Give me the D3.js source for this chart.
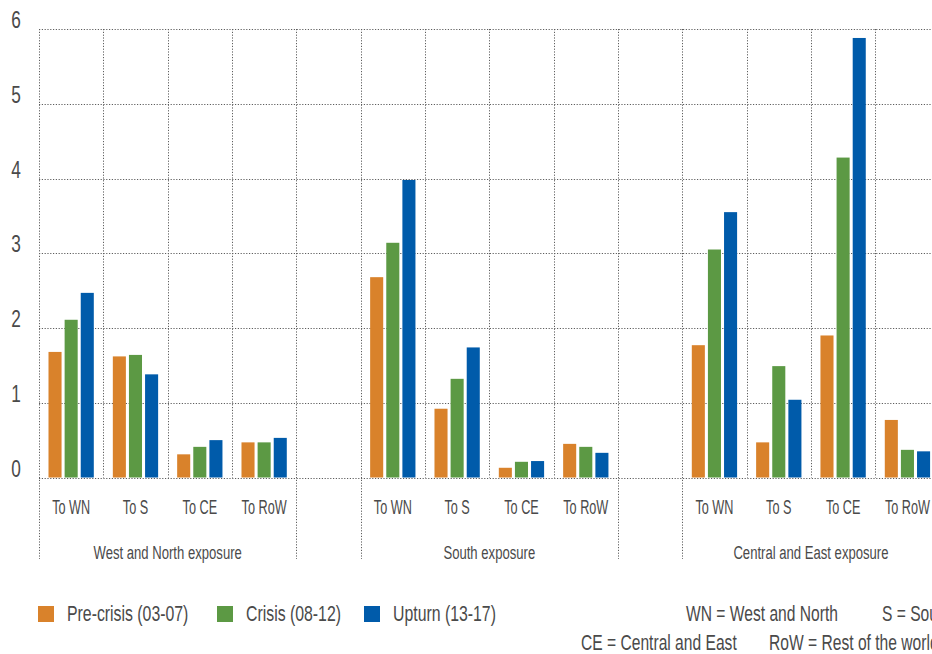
<!DOCTYPE html>
<html>
<head>
<meta charset="utf-8">
<script src="https://cdn.jsdelivr.net/npm/d3@7"></script>
<style>
  body { margin: 0; background: #fff; }
  svg { display: block; overflow: hidden; }
  text { font-family: "Liberation Sans Narrow", "Liberation Sans", sans-serif; fill: #4a4a4a; }
  .grid line { stroke: #5e5e5e; stroke-width: 1; stroke-dasharray: 1.2, 1.6; }
</style>
</head>
<body>
<div id="chart"></div>
<script>
// chart data
var groups = ["West and North exposure", "South exposure", "Central and East exposure"];
var destinations = ["To WN", "To S", "To CE", "To RoW"];
var seriesNames = ["Pre-crisis (03-07)", "Crisis (08-12)", "Upturn (13-17)"];
var seriesColors = ["#d9822b", "#5c9944", "#005baa"];

// one value per group x destination (WN: 4, S: 4, CE: 4)
var preCrisis = [1.68, 1.62, 0.31, 0.47, 2.68, 0.92, 0.13, 0.45, 1.77, 0.47, 1.90, 0.77];
var crisis    = [2.11, 1.64, 0.41, 0.47, 3.14, 1.32, 0.21, 0.41, 3.05, 1.49, 4.28, 0.37];
var upturn    = [2.47, 1.38, 0.50, 0.53, 3.98, 1.74, 0.22, 0.33, 3.55, 1.04, 5.88, 0.35];

var yTicks = [0, 1, 2, 3, 4, 5, 6];

var noteLines = [
  ["WN = West and North", "S = South"],
  ["CE = Central and East", "RoW = Rest of the world"]
];

var svgWidth = 932, svgHeight = 654;
var margin = { top: 29, left: 39 };
var baseY = 477.5;
var slotW = 64.33;

var svg = d3.select("#chart").append("svg")
  .attr("width", svgWidth)
  .attr("height", svgHeight);

// slot keys: 4 destinations per group, plus an empty gap slot between groups
var slotKeys = [];
groups.forEach(function(g, gi) {
  destinations.forEach(function(d) { slotKeys.push(gi + "|" + d); });
  if (gi < groups.length - 1) slotKeys.push("gap" + gi);
});

var x0 = d3.scaleBand()
  .domain(slotKeys)
  .range([margin.left, margin.left + slotKeys.length * slotW])
  .paddingInner(0).paddingOuter(0);

var x1 = d3.scaleBand()
  .domain(seriesNames)
  .range([9.5, 54.8])
  .paddingInner(0.19);

var y = d3.scaleLinear().domain([0, 6]).range([baseY, margin.top]);

function addText(parent, str, x, yy, size, sx, anchor) {
  return parent.append("text")
    .attr("transform", `translate(${x},${yy}) scale(${sx},1)`)
    .attr("text-anchor", anchor || "start")
    .style("font-size", size + "px")
    .text(str);
}

// horizontal grid
var grid = svg.append("g").attr("class", "grid");
grid.selectAll(".h")
  .data(yTicks)
  .enter().append("line")
  .attr("x1", margin.left)
  .attr("x2", svgWidth + 20)
  .attr("y1", d => Math.round(y(d)) + 0.5)
  .attr("y2", d => Math.round(y(d)) + 0.5);

// vertical grid: every slot edge, group edges run down past the labels
var edges = slotKeys.map(k => x0(k)).concat([x0.range()[1]]);
var groupEdgeIdx = [0, 4, 5, 9, 10, 14];
grid.selectAll(".v")
  .data(edges)
  .enter().append("line")
  .attr("x1", d => Math.round(d) + 0.5)
  .attr("x2", d => Math.round(d) + 0.5)
  .attr("y1", margin.top)
  .attr("y2", (d, i) => groupEdgeIdx.indexOf(i) >= 0 ? 559 : baseY);

// y tick labels
yTicks.forEach(function(t) {
  addText(svg, t, 16, y(t) - 1, 23, 0.75, "middle");
});

// bars
var allSeries = [preCrisis, crisis, upturn];
var barData = [];
groups.forEach(function(g, gi) {
  destinations.forEach(function(d, di) {
    seriesNames.forEach(function(s, si) {
      barData.push({ key: gi + "|" + d, series: s, color: seriesColors[si], value: allSeries[si][gi * 4 + di] });
    });
  });
});

svg.append("g").selectAll("rect")
  .data(barData)
  .enter().append("rect")
  .attr("x", d => x0(d.key) + x1(d.series))
  .attr("width", x1.bandwidth())
  .attr("y", d => y(d.value))
  .attr("height", d => baseY - y(d.value))
  .attr("fill", d => d.color);

// category labels
groups.forEach(function(g, gi) {
  destinations.forEach(function(d) {
    var k = gi + "|" + d;
    addText(svg, d, x0(k) + slotW / 2, 514, 19.5, 0.65, "middle");
  });
  var first = x0(gi + "|" + destinations[0]);
  var last = x0(gi + "|" + destinations[destinations.length - 1]) + slotW;
  addText(svg, g, (first + last) / 2, 559, 19, 0.69, "middle");
});

// legend
var legendX = [38, 217, 364];
seriesNames.forEach(function(s, i) {
  svg.append("rect")
    .attr("x", legendX[i]).attr("y", 606)
    .attr("width", 16).attr("height", 16)
    .attr("fill", seriesColors[i]);
  addText(svg, s, legendX[i] + 29, 621, 22, 0.72, "start");
});

// abbreviations note (runs off the right edge, as in the original)
var noteX = [[686, 882], [581, 769]];
var noteY = [621, 650];
noteLines.forEach(function(line, li) {
  line.forEach(function(str, j) {
    addText(svg, str, noteX[li][j], noteY[li], 22, 0.71, "start");
  });
});
</script>
</body>
</html>
